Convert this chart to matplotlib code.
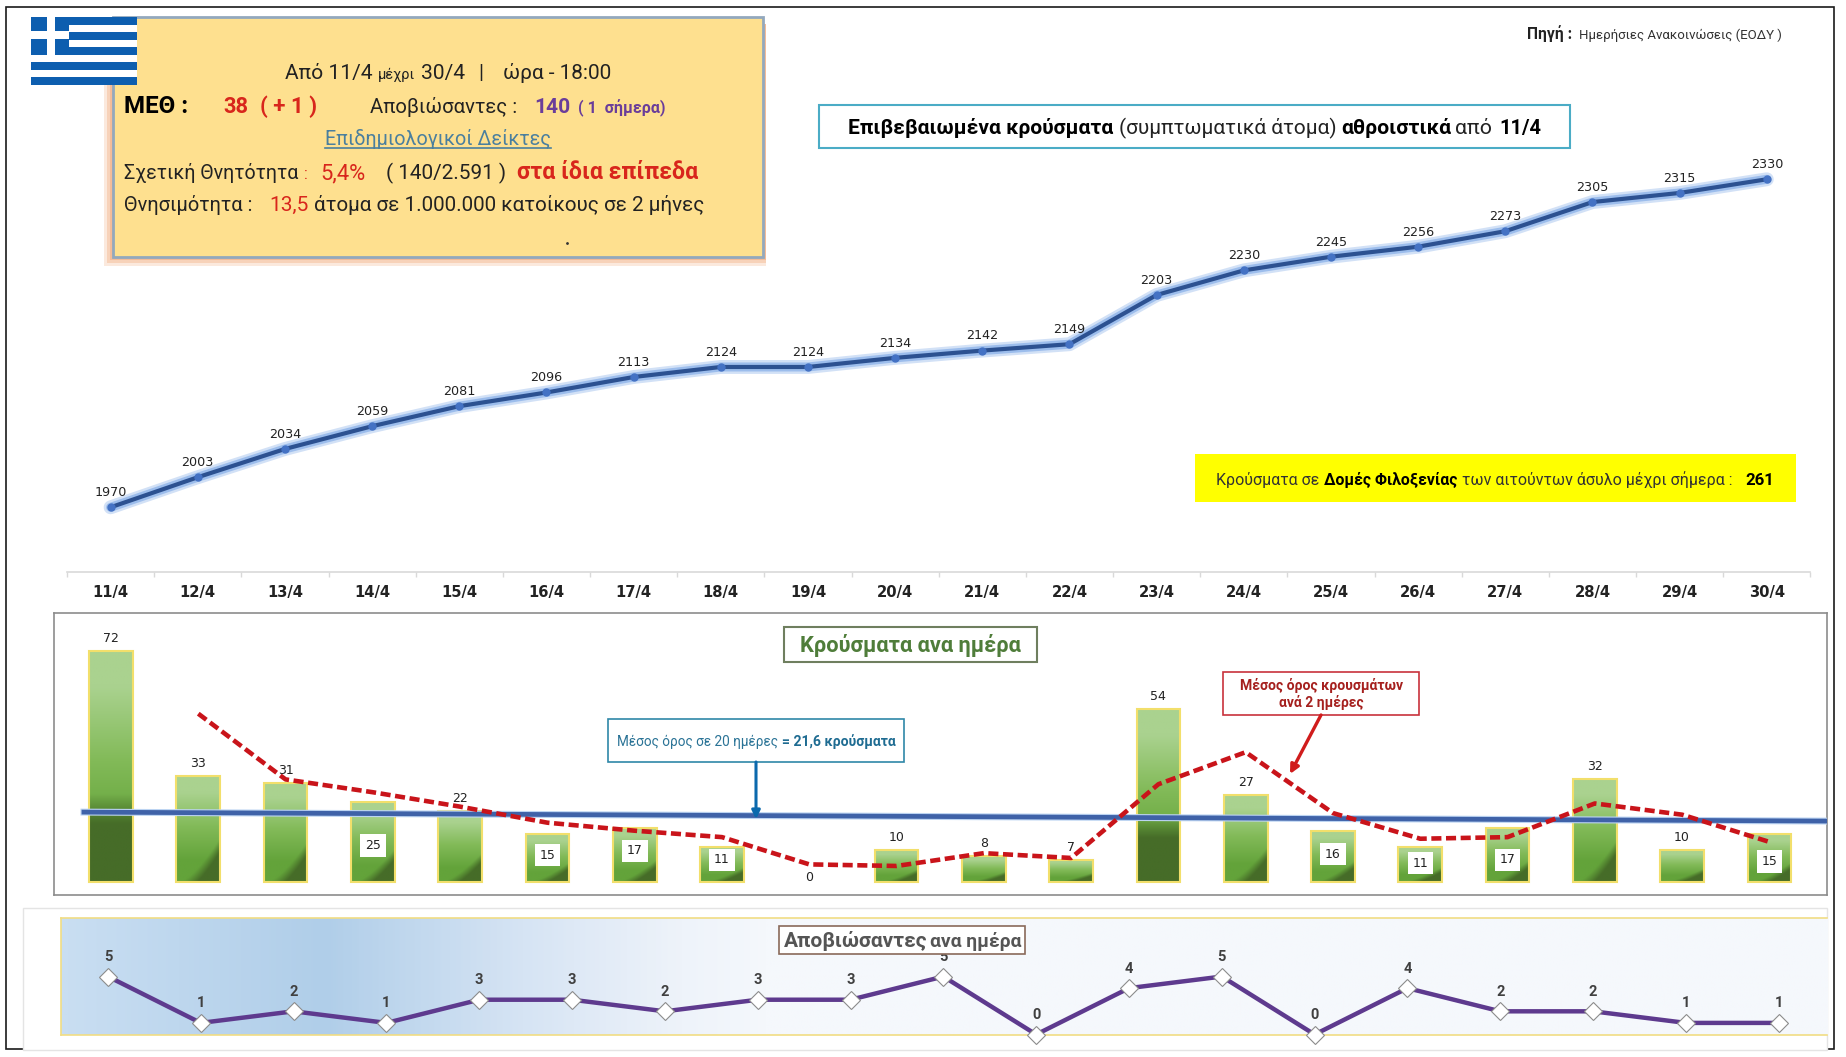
import numpy as np
import matplotlib
matplotlib.use('Agg')
import matplotlib.pyplot as plt
from matplotlib.patches import Rectangle
from matplotlib.colors import LinearSegmentedColormap, to_rgb

W, H = 1846, 1057

days = ['11/4', '12/4', '13/4', '14/4', '15/4', '16/4', '17/4', '18/4', '19/4', '20/4',
        '21/4', '22/4', '23/4', '24/4', '25/4', '26/4', '27/4', '28/4', '29/4', '30/4']
cumulative = [1970, 2003, 2034, 2059, 2081, 2096, 2113, 2124, 2124, 2134,
              2142, 2149, 2203, 2230, 2245, 2256, 2273, 2305, 2315, 2330]
daily = [72, 33, 31, 25, 22, 15, 17, 11, 0, 10, 8, 7, 54, 27, 16, 11, 17, 32, 10, 15]
# labels sitting in white boxes inside the bar: index -> height of the label
boxed_labels = {3: 11.5, 5: 8.4, 6: 9.7, 7: 6.9, 14: 8.7, 15: 5.9, 16: 6.9, 19: 6.5}
avg_two_days = [52.5, 32, 28, 23.5, 18.5, 16, 14, 5.5, 5, 9, 7.5, 30.5, 40.5, 21.5, 13.5, 14, 24.5, 21, 12.5]
avg_x = list(range(1, 20))
mean_line_x = [-0.31, 19.66]
mean_line_y = [21.8, 19.0]
deaths = [5, 1, 2, 1, 3, 3, 2, 3, 3, 5, 0, 4, 5, 0, 4, 2, 2, 1, 1]

fig = plt.figure(figsize=(W / 100, H / 100), dpi=100, facecolor='white')
rend = fig.canvas.get_renderer()


def px_axes(left, top, right, bottom, z=1):
    return fig.add_axes([left / W, 1 - bottom / H, (right - left) / W, (bottom - top) / H], zorder=z)


def fit(ax, s, x0, x1, y, family='Roboto', **kw):
    # scale the font so the string spans x0..x1 px, y is the baseline
    t = ax.text(x0, y, s, ha='left', va='baseline', family=family, fontsize=12, **kw)
    w = t.get_window_extent(rend).width
    t.set_fontsize(12 * (x1 - x0) / w)
    return t


# background layer in pixel coordinates
bg = px_axes(0, 0, W, H, z=0)
bg.set_xlim(0, W)
bg.set_ylim(H, 0)
bg.axis('off')
bg.add_patch(Rectangle((6, 7), 1828, 1042, fc='white', ec='#1a1a1a', lw=1.2))
bg.add_patch(Rectangle((23, 908), 1804, 142, fc='white', ec='#e4e4e4', lw=1))

# top chart
ax1 = px_axes(67, 100, 1810.4, 572, z=2)
ax1.patch.set_alpha(0)
x = np.arange(20)
ax1.plot(x, cumulative, color='#8fb4ea', lw=10, alpha=0.4, solid_capstyle='round')
ax1.plot(x, cumulative, color='#8fb4ea', lw=6.5, alpha=0.8, solid_capstyle='round')
ax1.plot(x, cumulative, color='#2c5191', lw=3, marker='o', ms=5, mfc='#4472c4', mec='#4472c4')
for i, v in enumerate(cumulative):
    ax1.annotate(str(v), (i, v), xytext=(0, 10.5), textcoords='offset points', ha='center', va='center',
                 fontsize=9.2, color='#222222', family='DejaVu Sans')
ax1.set_xlim(-0.5, 19.5)
ax1.set_ylim(1899, 2417)
for s in ['top', 'left', 'right']:
    ax1.spines[s].set_visible(False)
ax1.spines['bottom'].set_color('#d9d9d9')
ax1.spines['bottom'].set_linewidth(1.2)
ax1.set_yticks([])
ax1.set_xticks(np.arange(-0.5, 20, 1))
ax1.set_xticklabels([])
ax1.tick_params(axis='x', length=3.5, color='#d9d9d9', width=1)
for i, d in enumerate(days):
    ax1.annotate(d, (i, 0), xycoords=ax1.get_xaxis_transform(), xytext=(0, -14.5), textcoords='offset points',
                 ha='center', va='center', fontsize=10.6, fontweight='bold', color='#222222', family='DejaVu Sans')

# daily bars
ax2 = px_axes(54, 613, 1827, 895, z=2)
bars = ax2.bar(x, daily, width=0.5, fc='none', ec='#f2df6b', lw=1.5, zorder=3)
light, mid, low, dark = [np.array(to_rgb(c)) for c in ['#aad28f', '#82ba58', '#63a33a', '#466c28']]
for b, v in zip(bars, daily):
    if v == 0:
        b.set_linewidth(0)
        continue
    n = 80
    u, vv = np.meshgrid(np.linspace(0, 1, 30), np.linspace(0, 1, n))
    t = np.clip((vv - 0.15) / 0.65, 0, 1)[..., None]
    base = np.where(t < 0.5, light + (mid - light) * t * 2, mid + (low - mid) * (t - 0.5) * 2)
    edge = 0.62 + 0 * u if v > 50 else 1.02 - 0.42 * u ** 1.5
    m = np.clip((vv - edge) / 0.13, 0, 1)[..., None]
    img = base + (dark - base) * m
    im = ax2.imshow(img, extent=(b.get_x(), b.get_x() + b.get_width(), 0, v), aspect='auto', zorder=2,
                    interpolation='bilinear')
    im.set_clip_path(b)
for i, v in enumerate(daily):
    if i in boxed_labels:
        ax2.text(i, boxed_labels[i], str(v), ha='center', va='center', fontsize=9, color='#222222', zorder=7,
                 bbox=dict(fc='white', ec='none', pad=3.5))
    else:
        ax2.annotate(str(v), (i, v), xytext=(0, 9 if v else 3.6), textcoords='offset points', ha='center',
                     va='center', fontsize=9, color='#222222', zorder=7)
ax2.plot(mean_line_x, mean_line_y, color='#bcd4f2', lw=5, zorder=4)
ax2.plot(mean_line_x, mean_line_y, color='#3f62a8', lw=3.4, zorder=5)
ax2.plot(avg_x, avg_two_days, color='#c9141a', lw=3.3, ls=(0, (2.2, 1.0)), zorder=6)
ax2.set_xlim(-0.653, 19.66)
ax2.set_ylim(-4.05, 83.9)
ax2.set_xticks([])
ax2.set_yticks([])
for s in ax2.spines.values():
    s.set_color('#8c8c8c')
    s.set_linewidth(1.2)

# deaths per day
ax3 = px_axes(61, 918, 1827, 1034.5, z=2)
grad = LinearSegmentedColormap.from_list('g', [(0, '#c9def2'), (0.147, '#b0cee9'), (0.26, '#d6e4f4'),
                                               (0.35, '#eef3fa'), (0.40, '#f5f8fc'), (1, '#f5f8fc')])
ax3.imshow(np.linspace(0, 1, 600)[None, :], cmap=grad, extent=(-0.506, 18.52, 0, 10.05), aspect='auto', zorder=0)
xd = np.arange(19)
ax3.plot(xd, deaths, color='#5e3a8e', lw=3.2, zorder=3, clip_on=False, marker='D', ms=9, mfc='white',
         mec='#8c8c8c', mew=0.8)
for i, v in enumerate(deaths):
    ax3.annotate(str(v), (i, v), xytext=(0, 14), textcoords='offset points', ha='center', va='center',
                 fontsize=10.5, fontweight='bold', color='#404040', family='Roboto', zorder=1)
ax3.set_xlim(-0.506, 18.52)
ax3.set_ylim(0, 10.05)
ax3.set_xticks([])
ax3.set_yticks([])
ax3.spines['right'].set_visible(False)
for s in ['top', 'bottom', 'left']:
    ax3.spines[s].set_color('#f1dd84')
    ax3.spines[s].set_linewidth(1.2)

# overlay for boxes and texts
ov = px_axes(0, 0, W, H, z=5)
ov.set_xlim(0, W)
ov.set_ylim(H, 0)
ov.axis('off')
ov.patch.set_alpha(0)

# info box, soft shadow from a few stacked rectangles
for k, a in zip([9, 6, 3], [0.25, 0.35, 0.5]):
    ov.add_patch(Rectangle((113 - k, 24), 650 + k + 3, 233 + k, fc='#f2a878', ec='none', alpha=a))
ov.add_patch(Rectangle((113, 17), 650, 240, fc='#fee08f', ec='#93a8bd', lw=2))
# flag
for k in range(9):
    ov.add_patch(Rectangle((31, 17 + k * 7.53), 106, 7.53, fc='#0d5eaf' if k % 2 == 0 else 'white', ec='none'))
ov.add_patch(Rectangle((31, 17), 38, 37.6, fc='#0d5eaf', ec='none'))
ov.add_patch(Rectangle((47, 17), 8, 37.6, fc='white', ec='none'))
ov.add_patch(Rectangle((31, 31), 38, 8, fc='white', ec='none'))

red = '#d8261c'
purple = '#6a3d9a'
fit(ov, 'Από 11/4', 285, 372, 79, color='#222222')
fit(ov, 'μέχρι', 378, 415, 79, color='#222222')
fit(ov, '30/4', 421, 465, 79, color='#222222')
ov.text(481, 79, '|', ha='center', va='baseline', family='Roboto', fontsize=15, color='#222222')
fit(ov, 'ώρα - 18:00', 503, 611, 79, color='#222222')
fit(ov, 'ΜΕΘ :', 124, 188, 113, color='black', fontweight='bold')
fit(ov, '38', 223, 248, 113, color=red, fontweight='bold')
fit(ov, '( + 1 )', 260, 317, 113, color=red, fontweight='bold')
fit(ov, 'Αποβιώσαντες :', 370, 517, 113, color='#222222')
fit(ov, '140', 534, 570, 113, color=purple, fontweight='bold')
fit(ov, '( 1  σήμερα)', 578, 665, 113, color=purple, fontweight='bold')
fit(ov, 'Επιδημιολογικοί Δείκτες', 325, 551, 145, color='#4a7f9e')
ov.plot([325, 551], [148, 148], color='#4a7f9e', lw=1.2)
fit(ov, 'Σχετική Θνητότητα', 124, 298, 179, color='#222222')
fit(ov, ':', 304, 308, 179, color=red)
fit(ov, '5,4%', 320, 365, 179, color=red)
fit(ov, '( 140/2.591 )', 386, 506, 179, color='#222222')
fit(ov, 'στα ίδια επίπεδα', 517, 697, 179, color=red, fontweight='bold')
fit(ov, 'Θνησιμότητα :', 124, 252, 211, color='#222222')
fit(ov, '13,5', 269, 308, 211, color=red)
fit(ov, 'άτομα σε 1.000.000 κατοίκους σε 2 μήνες', 314, 704, 211, color='#222222')
ov.plot([567], [243], marker='o', ms=1, color='#333333')

# source
fit(ov, 'Πηγή :', 1527, 1572, 39, color='#222222', fontweight='bold')
fit(ov, 'Ημερήσιες Ανακοινώσεις (ΕΟΔΥ )', 1579, 1782, 39, color='#333333')

# heading box
ov.add_patch(Rectangle((819, 105), 751, 43, fc='white', ec='#4bacc6', lw=1.5))
fit(ov, 'Επιβεβαιωμένα κρούσματα', 848, 1113, 134, color='black', fontweight='bold')
fit(ov, '(συμπτωματικά άτομα)', 1119, 1337, 134, color='#222222')
fit(ov, 'αθροιστικά', 1341, 1451, 134, color='black', fontweight='bold')
fit(ov, 'από', 1455, 1492, 134, color='#222222')
fit(ov, '11/4', 1499, 1541, 134, color='black', fontweight='bold')

# yellow note
ov.add_patch(Rectangle((1195, 454), 601, 48, fc='#ffff00', ec='none'))
fit(ov, 'Κρούσματα σε', 1216, 1319, 485, color='#333333')
fit(ov, 'Δομές Φιλοξενίας', 1324, 1457, 485, color='black', fontweight='bold')
fit(ov, 'των αιτούντων άσυλο μέχρι σήμερα :', 1462, 1732, 485, color='#333333')
fit(ov, '261', 1745, 1774, 485, color='black', fontweight='bold')

# daily chart notes
ov.add_patch(Rectangle((784, 627), 253, 35, fc='white', ec='#6f7f5f', lw=1.5))
fit(ov, 'Κρούσματα ανα ημέρα', 800, 1020, 652, color='#4f7d3a', fontweight='bold')

ov.add_patch(Rectangle((608, 719), 296, 43, fc='white', ec='#2f87a8', lw=1.2))
fit(ov, 'Μέσος όρος σε 20 ημέρες', 617, 778, 746, color='#2a7396')
fit(ov, '= 21,6 κρούσματα', 782, 896, 746, color='#1f6c92', fontweight='bold')
ov.annotate('', xy=(756, 819), xytext=(756, 762),
            arrowprops=dict(arrowstyle='-|>', color='#0b69ad', lw=2.2, mutation_scale=12, shrinkA=0, shrinkB=0))

ov.add_patch(Rectangle((1223, 672), 196, 43, fc='white', ec='#c8323c', lw=1.2))
fit(ov, 'Μέσος όρος κρουσμάτων', 1240, 1403, 690, color='#a5201e', fontweight='bold')
fit(ov, 'ανά 2 ημέρες', 1279, 1363, 707, color='#a5201e', fontweight='bold')
ov.annotate('', xy=(1290, 774), xytext=(1321, 715),
            arrowprops=dict(arrowstyle='-|>', color='#d01c1c', lw=2.4, mutation_scale=13, shrinkA=0, shrinkB=0))

# deaths title
ov.add_patch(Rectangle((779, 926), 246, 28, fc='white', ec='#8a6a5a', lw=1.2))
fit(ov, 'Αποβιώσαντες', 784, 927, 947, color='#555555', fontweight='bold')
fit(ov, 'ανα ημέρα', 930, 1021, 947, color='#555555', fontweight='bold')

fig.savefig('out.png', dpi=100)
